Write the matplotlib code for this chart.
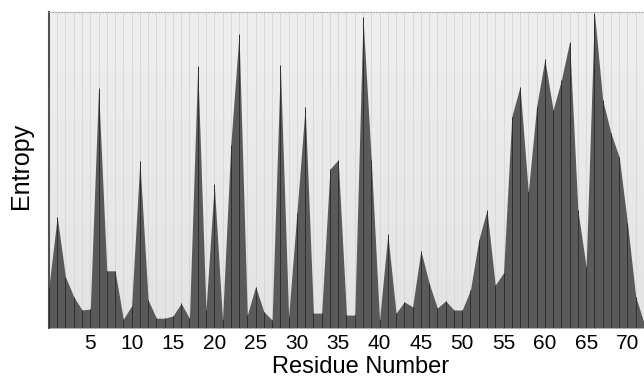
import numpy as np
import matplotlib.pyplot as plt
from matplotlib.colors import LinearSegmentedColormap

plt.rcParams['font.family'] = ['Liberation Sans', 'DejaVu Sans']

# residue index and per-residue entropy (arbitrary units)
residues = list(range(0, 73))
entropy = [
    0.131, 0.352, 0.162, 0.099, 0.057, 0.060, 0.759, 0.181, 0.181, 0.028,
    0.070, 0.528, 0.089, 0.031, 0.031, 0.038, 0.078, 0.031, 0.829, 0.057,
    0.456, 0.025, 0.579, 0.930, 0.041, 0.131, 0.052, 0.025, 0.832, 0.036,
    0.364, 0.700, 0.047, 0.047, 0.503, 0.532, 0.041, 0.041, 0.983, 0.532,
    0.025, 0.297, 0.047, 0.083, 0.067, 0.245, 0.142, 0.063, 0.086, 0.057,
    0.057, 0.120, 0.278, 0.373, 0.136, 0.174, 0.669, 0.764, 0.431, 0.700,
    0.850, 0.690, 0.785, 0.906, 0.373, 0.194, 0.998, 0.722, 0.617, 0.541,
    0.332, 0.099, 0.016,
]
tick_residues = list(range(5, 71, 5))

fig = plt.figure(figsize=(6.44, 3.77), dpi=100)
ax = fig.add_axes([0.076, 0.130, 0.924, 0.838])

# soft grey gradient background, lighter at the top
bg = LinearSegmentedColormap.from_list('bg', ['#efefef', '#e3e3e3'])
grad = np.linspace(0, 1, 256).reshape(-1, 1)
ax.imshow(grad, cmap=bg, aspect='auto', extent=[0, 72, 0, 1],
          origin='upper', zorder=0)

# faint per-residue grid
for r in residues:
    ax.axvline(r, color='#d6d6d6', linewidth=0.6, zorder=1)

ax.fill_between(residues, entropy, 0, color='#5a5a5a', linewidth=0, zorder=2)
ax.vlines(residues, 0, entropy, color='#2e2e2e', linewidth=0.7, zorder=3)

ax.set_xlim(0, 72)
ax.set_ylim(0, 1)
ax.set_xticks(tick_residues)
ax.set_xticklabels([str(t) for t in tick_residues], fontsize=15)
ax.set_yticks([])
ax.tick_params(axis='x', length=0, pad=4)

ax.set_xlabel('Residue Number', fontsize=17, va='baseline')
ax.xaxis.set_label_coords(0.523, -0.141)
ax.set_ylabel('Entropy', fontsize=18, va='center')
ax.yaxis.set_label_coords(-0.047, 0.513)

for side in ['right', 'bottom']:
    ax.spines[side].set_visible(False)
ax.spines['top'].set_linestyle(':')
ax.spines['top'].set_color('#a8a8a8')
ax.spines['top'].set_linewidth(0.8)
ax.spines['left'].set_color('#505050')
ax.spines['left'].set_linewidth(1.5)

plt.savefig('out.png', dpi=100)
